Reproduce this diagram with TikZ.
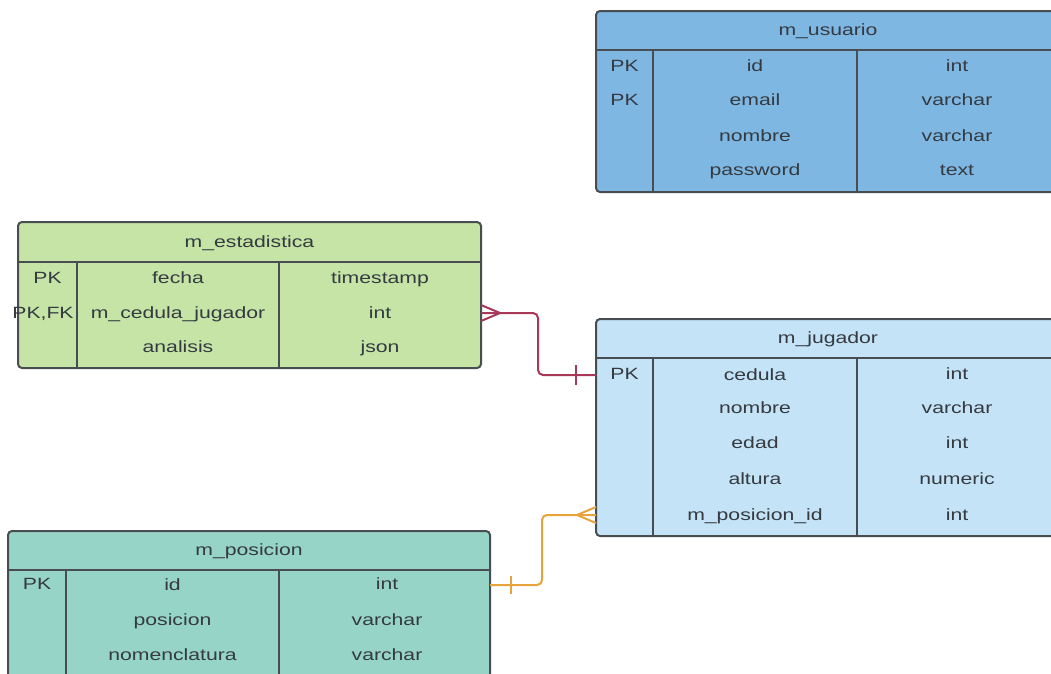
\documentclass[tikz,border=0pt]{standalone}
\usepackage{fontspec}
\setmainfont[FakeStretch=1.3]{Liberation Sans}
\definecolor{edge}{RGB}{72,77,82}
\definecolor{ink}{RGB}{52,58,64}
\definecolor{usrfill}{RGB}{127,183,227}
\definecolor{estfill}{RGB}{198,228,166}
\definecolor{jugfill}{RGB}{196,227,246}
\definecolor{posfill}{RGB}{151,212,200}
\definecolor{relred}{RGB}{168,56,88}
\definecolor{relorange}{RGB}{232,164,60}
\begin{document}
\begin{tikzpicture}[x=1pt,y=-1pt,
  table/.style={draw=edge, line width=2pt, rounded corners=4pt, inner sep=0pt, outer sep=0pt},
  cell/.style={inner sep=0pt, text height=11.7pt, text depth=0pt, text=ink,
               font=\fontsize{16.3}{19}\selectfont},
  rule/.style={draw=edge, line width=2pt},
  rel/.style={line width=2pt, rounded corners=5pt}]
\clip (0,0) rectangle (1051,673);
\fill[white] (0,0) rectangle (1051,673);

% ---------- m_usuario ----------
\node[table, fill=usrfill, minimum width=464pt, minimum height=181pt] (usr) at (828,101.5) {};
\draw[rule] (596,50) -- (1060,50);
\draw[rule] (653,50) -- (653,192);
\draw[rule] (857,50) -- (857,192);
\node[cell] (u-title) at (828,30) {m\_usuario};
\node[cell] (u-k1) at (624.5,66) {PK};
\node[cell] (u-k2) at (624.5,100) {PK};
\node[cell] (u-id) at (755,66) {id};
\node[cell] (u-email) at (755,100) {email};
\node[cell] (u-nombre) at (755,136) {nombre};
\node[cell] (u-pass) at (755,170) {password};
\node[cell] (u-t1) at (957,66) {int};
\node[cell] (u-t2) at (957,100) {varchar};
\node[cell] (u-t3) at (957,136) {varchar};
\node[cell] (u-t4) at (957,170) {text};

% ---------- m_estadistica ----------
\node[table, fill=estfill, minimum width=463pt, minimum height=146pt] (est) at (249.5,295) {};
\draw[rule] (18,262) -- (481,262);
\draw[rule] (77,262) -- (77,368);
\draw[rule] (279,262) -- (279,368);
\node[cell] (e-title) at (249.5,242) {m\_estadistica};
\node[cell] (e-k1) at (47.5,278) {PK};
\node[cell] (e-k2) at (43,313) {PK,FK};
\node[cell] (e-fecha) at (178,278) {fecha};
\node[cell] (e-cedula) at (178,313) {m\_cedula\_jugador};
\node[cell] (e-analisis) at (178,347) {analisis};
\node[cell] (e-t1) at (380,278) {timestamp};
\node[cell] (e-t2) at (380,313) {int};
\node[cell] (e-t3) at (380,347) {json};

% ---------- m_jugador ----------
\node[table, fill=jugfill, minimum width=464pt, minimum height=217pt] (jug) at (828,427.5) {};
\draw[rule] (596,358) -- (1060,358);
\draw[rule] (653,358) -- (653,536);
\draw[rule] (857,358) -- (857,536);
\node[cell] (j-title) at (828,338) {m\_jugador};
\node[cell] (j-k1) at (624.5,374) {PK};
\node[cell] (j-cedula) at (755,375) {cedula};
\node[cell] (j-nombre) at (755,408) {nombre};
\node[cell] (j-edad) at (755,443) {edad};
\node[cell] (j-altura) at (755,479) {altura};
\node[cell] (j-posid) at (755,515) {m\_posicion\_id};
\node[cell] (j-t1) at (957,374) {int};
\node[cell] (j-t2) at (957,408) {varchar};
\node[cell] (j-t3) at (957,443) {int};
\node[cell] (j-t4) at (957,479) {numeric};
\node[cell] (j-t5) at (957,515) {int};

% ---------- m_posicion ----------
\node[table, fill=posfill, minimum width=482pt, minimum height=169pt] (pos) at (249,615.5) {};
\draw[rule] (8,570) -- (490,570);
\draw[rule] (66,570) -- (66,700);
\draw[rule] (279,570) -- (279,700);
\node[cell] (p-title) at (249,550) {m\_posicion};
\node[cell] (p-k1) at (37,584) {PK};
\node[cell] (p-id) at (172.5,585) {id};
\node[cell] (p-posicion) at (172.5,620) {posicion};
\node[cell] (p-nomen) at (172.5,655) {nomenclatura};
\node[cell] (p-t1) at (387,584) {int};
\node[cell] (p-t2) at (387,620) {varchar};
\node[cell] (p-t3) at (387,655) {varchar};

% ---------- relationships ----------
% m_estadistica (many) -- m_jugador (one)
\draw[rel, draw=relred] (est.east |- e-cedula) -- ++(57,0) |- (jug.west |- j-cedula);
\draw[line width=2pt, draw=relred] (est.east |- e-cedula) ++(0,-8) -- ++(19,8) -- ++(-19,8);
\draw[line width=2pt, draw=relred] (jug.west |- j-cedula) ++(-20,-10) -- ++(0,20);

% m_jugador (many) -- m_posicion (one)
\draw[rel, draw=relorange] (jug.west |- j-posid) -- ++(-54,0) |- (pos.east |- p-id);
\draw[line width=2pt, draw=relorange] (jug.west |- j-posid) ++(0,-8) -- ++(-19,8) -- ++(19,8);
\draw[line width=2pt, draw=relorange] (pos.east |- p-id) ++(21,-9) -- ++(0,18);
\end{tikzpicture}
\end{document}
